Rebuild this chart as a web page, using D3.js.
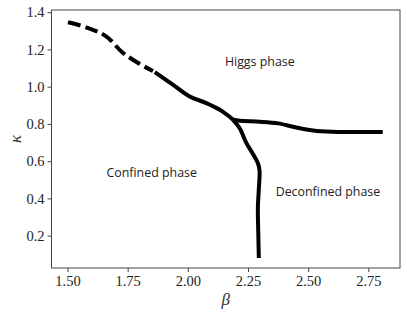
<!DOCTYPE html>
<html>
<head>
<meta charset="utf-8">
<script src="https://cdn.jsdelivr.net/npm/d3@7"></script>
<style>
  body { margin: 0; background: #fff; }
  .phase { font-family: "Open Sans", sans-serif; font-size: 12.4px; fill: #222; }
</style>
</head>
<body>
<svg id="chart" width="407" height="315"></svg>
<script>
// phase boundary (beta, kappa)
const dashedBoundary = [
  [1.502, 1.346], [1.584, 1.316], [1.662, 1.269], [1.724, 1.189],
  [1.792, 1.128], [1.855, 1.084]
];
const confinedHiggs = [
  [1.863, 1.078], [1.939, 1.010], [2.008, 0.947], [2.077, 0.912],
  [2.133, 0.876], [2.167, 0.845], [2.188, 0.822]
];
const higgsDeconfined = [
  [2.188, 0.822], [2.216, 0.817], [2.299, 0.812], [2.375, 0.803],
  [2.450, 0.781], [2.520, 0.765], [2.600, 0.758], [2.700, 0.757], [2.810, 0.756]
];
const confinedDeconfined = [
  [2.188, 0.822], [2.215, 0.778], [2.243, 0.698], [2.270, 0.640],
  [2.291, 0.590], [2.298, 0.550], [2.295, 0.450], [2.291, 0.350],
  [2.293, 0.200], [2.295, 0.080]
];
const labels = [
  { text: "Higgs phase", x: 2.154, y: 1.112 },
  { text: "Confined phase", x: 1.662, y: 0.517 },
  { text: "Deconfined phase", x: 2.365, y: 0.415 }
];
const xTicks = [1.5, 1.75, 2.0, 2.25, 2.5, 2.75];
const yTicks = [0.2, 0.4, 0.6, 0.8, 1.0, 1.2, 1.4];

const margin = { left: 51.5, right: 7, top: 10, bottom: 47 };
const width = 407 - margin.left - margin.right;
const height = 315 - margin.top - margin.bottom;

const x = d3.scaleLinear().domain([1.4336, 2.8816]).range([0, width]);
const y = d3.scaleLinear().domain([0.0265, 1.4116]).range([height, 0]);

const svg = d3.select('#chart');
const g = svg.append('g').attr('transform', `translate(${margin.left},${margin.top})`);

const line = d3.line()
  .x(d => x(d[0]))
  .y(d => y(d[1]))
  .curve(d3.curveCatmullRom);

g.append('path')
  .datum(dashedBoundary)
  .attr('d', line)
  .attr('fill', 'none')
  .attr('stroke', '#000')
  .attr('stroke-width', 4)
  .attr('stroke-dasharray', '13,5');

[confinedHiggs, higgsDeconfined, confinedDeconfined].forEach(pts => {
  g.append('path')
    .datum(pts)
    .attr('d', line)
    .attr('fill', 'none')
    .attr('stroke', '#000')
    .attr('stroke-width', 4)
    .attr('stroke-linejoin', 'round');
});

g.selectAll('text.phase')
  .data(labels)
  .enter()
  .append('text')
  .attr('class', 'phase')
  .attr('x', d => x(d.x))
  .attr('y', d => y(d.y))
  .text(d => d.text);

// frame
g.append('rect')
  .attr('width', width)
  .attr('height', height)
  .attr('fill', 'none')
  .attr('stroke', '#444')
  .attr('stroke-width', 1);

const xAxis = g.append('g')
  .attr('transform', `translate(0,${height})`)
  .call(d3.axisBottom(x).tickValues(xTicks).tickFormat(d3.format('.2f')).tickSize(4).tickPadding(4));
const yAxis = g.append('g')
  .call(d3.axisLeft(y).tickValues(yTicks).tickFormat(d3.format('.1f')).tickSize(4).tickPadding(3));
[xAxis, yAxis].forEach(a => {
  a.select('.domain').remove();
  a.selectAll('.tick line').attr('stroke', '#444');
  a.selectAll('.tick text')
    .style('font-family', '"Liberation Serif", "DejaVu Serif", serif')
    .style('font-size', '14.5px')
    .style('fill', '#222');
});

svg.append('text')
  .attr('x', margin.left + width / 2)
  .attr('y', 305)
  .attr('text-anchor', 'middle')
  .style('font-family', '"Liberation Serif", serif')
  .style('font-style', 'italic')
  .style('font-size', '17px')
  .style('fill', '#333')
  .text('β');

svg.append('text')
  .attr('transform', `translate(21,${margin.top + height / 2}) rotate(-90)`)
  .attr('text-anchor', 'middle')
  .style('font-family', '"Liberation Serif", serif')
  .style('font-style', 'italic')
  .style('font-size', '17px')
  .style('fill', '#333')
  .text('κ');
</script>
</body>
</html>
